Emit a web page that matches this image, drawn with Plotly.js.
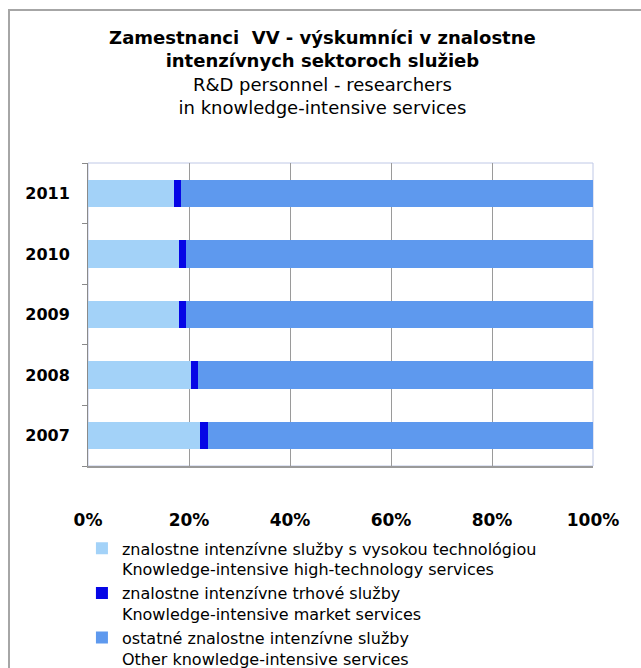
<!DOCTYPE html>
<html>
<head>
<meta charset="utf-8">
<script src="https://cdn.plot.ly/plotly-3.0.1.min.js"></script>
<style>
  html, body { margin: 0; padding: 0; background: #ffffff; }
  #frame { position: absolute; left: 8px; top: 9px; width: 700px; height: 700px;
           border-left: 2px solid #a6a6a6; border-top: 2px solid #a6a6a6; }
  #chart { position: absolute; left: 0; top: 0; width: 641px; height: 668px; }
</style>
</head>
<body>
<div id="frame"></div>
<div id="chart"></div>
<script>
const years = ['2007', '2008', '2009', '2010', '2011'];
const highTech = [22.1, 20.4, 18.1, 18.0, 17.0];
const market = [1.6, 1.4, 1.3, 1.4, 1.5];
const other = [76.3, 78.2, 80.6, 80.6, 81.5];
const seriesNames = [
  'znalostne intenzívne služby s vysokou technológiou<br>Knowledge-intensive high-technology services',
  'znalostne intenzívne trhové služby<br>Knowledge-intensive market services',
  'ostatné znalostne intenzívne služby<br>Other knowledge-intensive services'
];
const xTickVals = [0, 20, 40, 60, 80, 100];
const xTickText = ['0%', '20%', '40%', '60%', '80%', '100%'];

const FONT = 'DejaVu Sans, Liberation Sans, Arial, sans-serif';

const traces = [
  { type: 'bar', orientation: 'h', y: years, x: highTech, name: seriesNames[0],
    marker: { color: '#a3d2f8', line: { width: 0 } } },
  { type: 'bar', orientation: 'h', y: years, x: market, name: seriesNames[1],
    marker: { color: '#0606e6', line: { width: 0 } } },
  { type: 'bar', orientation: 'h', y: years, x: other, name: seriesNames[2],
    marker: { color: '#5e99ee', line: { width: 0 } } }
];

const layout = {
  width: 641, height: 668,
  paper_bgcolor: 'rgba(0,0,0,0)',
  plot_bgcolor: '#ffffff',
  margin: { l: 88, r: 48, t: 163, b: 202, autoexpand: false },
  barmode: 'stack',
  bargap: 0.55,
  font: { family: FONT, color: '#000000' },
  title: {
    text: '<b>Zamestnanci  VV - výskumníci v znalostne<br>intenzívnych sektoroch služieb</b><br>R&D personnel - researchers<br>in knowledge-intensive services',
    font: { family: FONT, size: 18, color: '#000000' },
    xref: 'container', x: 0.503, xanchor: 'center',
    yref: 'container', y: 1 - 44 / 668, yanchor: 'top'
  },
  xaxis: {
    range: [0, 100],
    tickvals: xTickVals, ticktext: xTickText,
    tickfont: { family: FONT, size: 17, color: '#000000', weight: 'bold' },
    showgrid: true, gridcolor: '#9a9a9a', gridwidth: 1,
    zeroline: false,
    showline: true, linecolor: '#9a9a9a', linewidth: 2,
    ticks: '', ticklen: 0,
    ticklabelstandoff: 38,
    automargin: false,
    fixedrange: true
  },
  yaxis: {
    type: 'category',
    tickfont: { family: FONT, size: 16, color: '#000000', weight: 'bold' },
    showgrid: false, zeroline: false,
    showline: true, linecolor: '#8a8a8a', linewidth: 1,
    ticks: 'outside', tickson: 'boundaries', ticklen: 5, tickcolor: '#8a8a8a',
    ticklabelstandoff: 14,
    automargin: false,
    fixedrange: true
  },
  shapes: [
    { type: 'rect', xref: 'paper', yref: 'paper', x0: 0, x1: 1, y0: 0, y1: 1,
      line: { color: '#bfc8e6', width: 1 }, fillcolor: 'rgba(0,0,0,0)', layer: 'below' }
  ],
  showlegend: true,
  legend: {
    x: -0.012, xanchor: 'left', y: -0.216, yanchor: 'top',
    traceorder: 'normal',
    valign: 'top',
    font: { family: FONT, size: 16, color: '#000000' },
    bgcolor: 'rgba(0,0,0,0)',
    tracegroupgap: 0,
    itemwidth: 30
  }
};

Plotly.newPlot('chart', traces, layout, { displayModeBar: false, staticPlot: true });
</script>
</body>
</html>
